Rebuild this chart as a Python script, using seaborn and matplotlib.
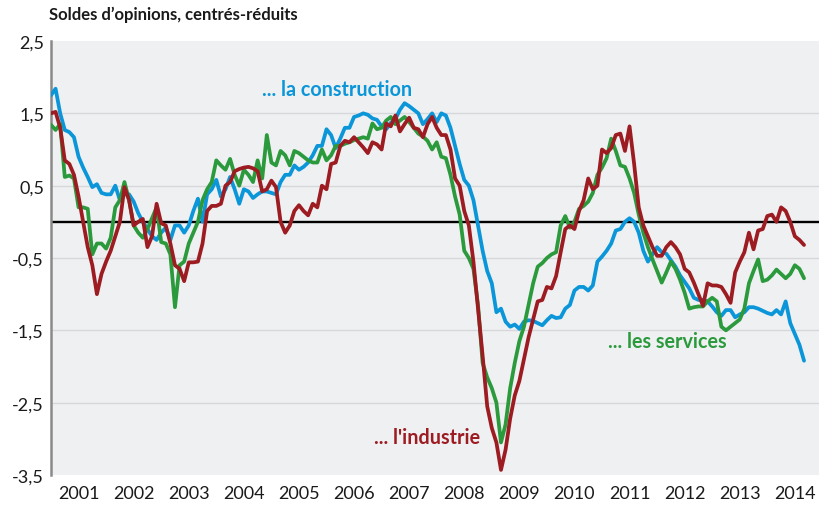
import numpy as np
import pandas as pd
import matplotlib
matplotlib.use("Agg")
import matplotlib.pyplot as plt
import seaborn as sns

# ---------------- data (monthly, Jan 2001 -> Sep 2014) ----------------
start_year = 2001
n_months = 165

construction = [
    1.75, 1.84, 1.5, 1.27, 1.24, 1.17, 0.9, 0.75, 0.62, 0.48, 0.52, 0.4,
    0.38, 0.38, 0.5, 0.3, 0.38, 0.38, 0.28, 0.12, 0.0, -0.1, -0.2, -0.25,
    -0.15, -0.08, -0.25, -0.05, -0.05, -0.15, -0.05, 0.15, 0.32, 0.0, 0.38, 0.45,
    0.58, 0.35, 0.45, 0.62, 0.45, 0.25, 0.45, 0.42, 0.33, 0.38, 0.42, 0.42,
    0.4, 0.38, 0.55, 0.65, 0.65, 0.78, 0.72, 0.76, 0.82, 0.92, 1.05, 1.05,
    1.28, 1.2, 1.02, 1.15, 1.3, 1.3, 1.45, 1.47, 1.5, 1.48, 1.43, 1.41,
    1.32, 1.28, 1.37, 1.42, 1.55, 1.64, 1.6, 1.55, 1.5, 1.35, 1.42, 1.5,
    1.38, 1.5, 1.47, 1.3, 1.05, 0.8, 0.58, 0.5, 0.3, -0.05, -0.4, -0.68,
    -0.85, -1.25, -1.2, -1.38, -1.45, -1.42, -1.48, -1.38, -1.36, -1.37, -1.4, -1.43,
    -1.36, -1.3, -1.33, -1.32, -1.2, -1.15, -0.95, -0.9, -0.9, -0.95, -0.88, -0.55,
    -0.48, -0.4, -0.3, -0.12, -0.1, 0.0, 0.05, 0.0, -0.15, -0.4, -0.55, -0.45,
    -0.35, -0.42, -0.44, -0.53, -0.62, -0.74, -0.83, -0.92, -1.05, -1.08, -1.08, -1.1,
    -1.17, -1.25, -1.3, -1.22, -1.22, -1.32, -1.28, -1.25, -1.18, -1.18, -1.2, -1.23,
    -1.26, -1.28, -1.22, -1.28, -1.1, -1.4, -1.55, -1.7, -1.92,
]

services = [
    1.34, 1.27, 1.35, 0.62, 0.64, 0.6, 0.2, 0.2, 0.18, -0.45, -0.3, -0.3,
    -0.37, -0.22, 0.2, 0.3, 0.55, 0.3, -0.05, -0.15, -0.22, -0.1, 0.05, 0.2,
    -0.28, -0.3, -0.45, -1.18, -0.6, -0.55, -0.3, -0.15, 0.0, 0.3, 0.45, 0.55,
    0.85, 0.78, 0.72, 0.87, 0.65, 0.5, 0.72, 0.65, 0.55, 0.85, 0.6, 1.2,
    0.82, 0.78, 0.98, 0.92, 0.78, 0.98, 0.95, 0.9, 0.85, 0.82, 0.82, 1.0,
    0.85, 0.92, 1.05, 1.05, 1.08, 1.1, 1.13, 1.15, 1.17, 1.15, 1.36, 1.28,
    1.3, 1.4, 1.45, 1.35, 1.4, 1.45, 1.38, 1.3, 1.22, 1.18, 1.12, 1.0,
    1.1, 0.9, 0.88, 0.65, 0.35, 0.1, -0.4, -0.5, -0.65, -1.15, -1.95, -2.15,
    -2.3, -2.5, -3.05, -2.8, -2.3, -1.95, -1.65, -1.45, -1.15, -0.85, -0.62, -0.57,
    -0.5, -0.45, -0.42, -0.05, 0.08, -0.08, 0.0, 0.18, 0.22, 0.28, 0.4, 0.65,
    0.75, 0.88, 1.15, 0.98, 0.78, 0.76, 0.6, 0.4, 0.1, -0.15, -0.35, -0.52,
    -0.68, -0.84, -0.7, -0.55, -0.65, -0.8, -0.98, -1.2, -1.18, -1.17, -1.17, -1.1,
    -1.05, -1.1, -1.45, -1.5, -1.45, -1.4, -1.35, -1.2, -0.85, -0.68, -0.52, -0.82,
    -0.8, -0.74, -0.66, -0.72, -0.78, -0.72, -0.6, -0.65, -0.78,
]

industrie = [
    1.5, 1.52, 1.3, 0.85, 0.8, 0.65, 0.35, 0.0, -0.35, -0.6, -1.0, -0.72,
    -0.55, -0.4, -0.2, 0.0, 0.48, 0.3, -0.05, 0.0, 0.04, -0.35, -0.2, 0.25,
    -0.02, -0.05, -0.3, -0.6, -0.65, -0.82, -0.56, -0.56, -0.55, -0.3, 0.15, 0.22,
    0.22, 0.25, 0.5, 0.55, 0.7, 0.73, 0.75, 0.76, 0.74, 0.7, 0.42, 0.45,
    0.57, 0.48, 0.0, -0.15, -0.05, 0.15, 0.23, 0.15, 0.09, 0.25, 0.2, 0.5,
    0.45, 0.8, 0.82, 1.05, 1.12, 1.1, 1.17, 1.1, 1.03, 0.95, 1.1, 1.07,
    1.0, 1.36, 1.32, 1.47, 1.25, 1.35, 1.44, 1.3, 1.28, 1.17, 1.35, 1.45,
    1.3, 1.2, 1.2, 1.0, 0.6, 0.5, 0.15, -0.05, -0.55, -1.2, -1.85, -2.55,
    -2.85, -3.05, -3.43, -3.15, -2.72, -2.4, -2.2, -1.9, -1.6, -1.35, -1.1, -1.08,
    -0.9, -0.92, -0.75, -0.42, -0.1, -0.05, -0.1, 0.15, 0.3, 0.6, 0.45, 0.5,
    1.0, 0.95, 1.02, 1.2, 1.22, 0.98, 1.32, 0.8, 0.2, -0.05, -0.2, -0.35,
    -0.47, -0.47, -0.35, -0.28, -0.35, -0.45, -0.65, -0.7, -0.84, -1.0, -1.16, -0.85,
    -0.88, -0.88, -0.9, -1.0, -1.12, -0.7, -0.55, -0.42, -0.15, -0.38, -0.12, -0.1,
    0.08, 0.1, 0.0, 0.2, 0.15, 0.0, -0.2, -0.25, -0.32,
]

series_names = ["... la construction", "... les services", "... l'industrie"]
series_colors = ["#0a96d8", "#2b9a3c", "#9c1c22"]
year_labels = [str(y) for y in range(2001, 2015)]
y_ticks = [2.5, 1.5, 0.5, -0.5, -1.5, -2.5, -3.5]
y_tick_labels = ["2,5", "1,5", "0,5", "-0,5", "-1,5", "-2,5", "-3,5"]
title = "Soldes d\u2019opinions, centrés-réduits"

# ---------------- long-form table ----------------
t = start_year + np.arange(n_months) / 12.0
df = pd.concat([
    pd.DataFrame({"t": t, "v": construction, "s": series_names[0]}),
    pd.DataFrame({"t": t, "v": services, "s": series_names[1]}),
    pd.DataFrame({"t": t, "v": industrie, "s": series_names[2]}),
])

sns.set_style("white")
plt.rcParams["font.family"] = ["Lato", "DejaVu Sans"]

fig = plt.figure(figsize=(8.2, 5.06), dpi=100)
ax = fig.add_axes([51 / 820, 1 - 476 / 506, 769 / 820, 434 / 506])
ax.set_facecolor("#eff0f2")

for yt in y_ticks[1:-1]:
    ax.axhline(yt, color="#d6d7da", lw=1.0, zorder=0)
ax.axhline(0, color="black", lw=1.7, zorder=1)

sns.lineplot(data=df, x="t", y="v", hue="s", hue_order=series_names,
             palette=dict(zip(series_names, series_colors)), lw=2.7,
             legend=False, ax=ax, zorder=3)

ax.set_xlim(2001.0, 2001.0 + 769 / 55.1)
ax.set_ylim(-3.5, 2.5)
ax.set_xlabel("")
ax.set_ylabel("")

ax.set_yticks(y_ticks)
ax.set_yticklabels(y_tick_labels, fontsize=13, color="#1a1a1a")
ax.tick_params(axis="y", length=0, pad=5)

ax.set_xticks(np.arange(2002, 2015), labels=[""] * 13)
ax.set_xticks(np.arange(2001, 2015) + 0.5, labels=year_labels, minor=True)
ax.tick_params(axis="x", which="major", length=8, width=1.0, color="#999999",
               direction="out")
ax.tick_params(axis="x", which="minor", length=0, pad=7, labelsize=13,
               labelcolor="#1a1a1a")

for side in ["top", "right", "bottom"]:
    ax.spines[side].set_visible(False)
ax.spines["left"].set_color("#8a8a8a")
ax.spines["left"].set_linewidth(1.8)

fig.text(49 / 820, 1 - 15 / 506, title, fontsize=12, fontweight="bold",
         va="center", ha="left", color="#1a1a1a")

ax.text(2004.83, 1.84, series_names[0], color=series_colors[0], fontsize=14.2,
        fontweight="bold", ha="left", va="center")
ax.text(2011.1, -1.65, series_names[1], color=series_colors[1], fontsize=14.2,
        fontweight="bold", ha="left", va="center")
ax.text(2006.86, -2.98, series_names[2], color=series_colors[2], fontsize=14.2,
        fontweight="bold", ha="left", va="center")

fig.savefig("out.png", dpi=100)
